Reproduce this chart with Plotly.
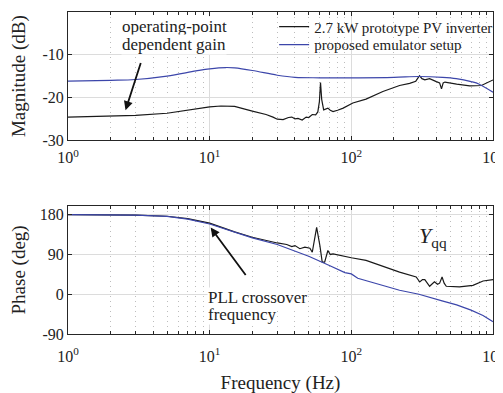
import plotly.graph_objects as go

# --- data ---
mag_freq_proto = [1, 2, 3, 5, 7, 10, 12, 15, 20, 25, 28, 30, 33, 36, 38, 40, 42, 45, 48, 50,
                  53, 56, 58, 59.5, 60.6, 61.8, 63.8, 66, 68.3, 71, 74.3, 80, 87.6, 102.5, 127,
                  167, 219, 258, 285, 303, 315, 330, 357, 398, 420, 433, 445, 458, 500, 554,
                  685, 828, 1000]
mag_proto = [-24.6, -24.4, -24.2, -23.7, -23.0, -22.2, -22.0, -22.1, -23.2, -24.0, -24.6, -25.1,
             -25.2, -24.7, -24.6, -25.0, -24.9, -25.3, -24.6, -24.7, -24.0, -24.1, -23.4, -21.0,
             -16.5, -20.5, -22.9, -22.7, -22.5, -23.0, -23.3, -23.0, -22.5, -21.3, -20.4, -18.6,
             -17.2, -16.7, -16.2, -14.9, -15.6, -15.9, -15.6, -16.3, -16.6, -18.0, -16.6, -16.4,
             -16.7, -16.9, -17.3, -17.2, -15.9]

mag_freq_emu = [1, 2, 3, 5, 8, 10, 13, 15, 20, 30, 40, 60, 100, 200, 300, 440, 550, 700, 800, 1000]
mag_emu = [-16.2, -16.0, -15.8, -15.0, -13.8, -13.3, -13.0, -13.1, -13.7, -14.8, -15.3, -15.4,
           -15.4, -15.3, -15.1, -15.3, -15.6, -16.3, -16.9, -18.8]

ph_freq_proto = [1, 3, 5, 7, 10, 15, 20, 25, 30, 35, 38, 40, 43.3, 47, 51, 53, 56.9, 60, 62.3,
                 64.8, 66.5, 68.3, 71, 74.3, 100, 127, 219, 287, 304, 318, 330, 357, 386, 406,
                 420, 437, 452, 468, 580, 722, 851, 1000]
ph_proto = [180, 179, 176.5, 171, 161, 141, 129, 121.5, 116, 112.5, 108, 110, 103, 106.5, 104,
            95, 151.5, 110, 72.7, 72.7, 85, 99, 90, 91.5, 82.5, 76.5, 50, 39, 27.7, 33, 33, 18,
            28, 22.5, 25, 39, 25, 18, 16.5, 20, 30, 33]

ph_freq_emu = [1, 3, 5, 7, 10, 15, 20, 30, 50, 70, 90, 100, 111, 219, 300, 437, 554, 700, 850, 1000]
ph_emu = [180, 179, 176, 170, 159, 140, 127.5, 112.5, 86, 65, 49, 46, 36, 9, 0, -15, -24, -36,
          -48, -62]

x_ticks = [1, 10, 100, 1000]
x_ticktext = ["10<sup>0</sup>", "10<sup>1</sup>", "10<sup>2</sup>", "10<sup>3</sup>"]
x_minor = [m * 10 ** k for k in range(3) for m in range(2, 10)]
mag_ticks = [0, -10, -20, -30]
ph_ticks = [-90, 0, 90, 180]

BLACK = "#1a1a1a"
BLUE = "#3c46aa"
FONT = "Liberation Serif, Times New Roman, serif"

fig = go.Figure()
fig.add_trace(go.Scatter(x=mag_freq_proto, y=mag_proto, mode="lines", name="2.7 kW prototype PV inverter",
                         line=dict(color=BLACK, width=1.2), xaxis="x", yaxis="y", legend="legend"))
fig.add_trace(go.Scatter(x=mag_freq_emu, y=mag_emu, mode="lines", name="proposed emulator setup",
                         line=dict(color=BLUE, width=1.2), line_shape="spline", xaxis="x", yaxis="y",
                         legend="legend2"))
fig.add_trace(go.Scatter(x=ph_freq_proto, y=ph_proto, mode="lines", showlegend=False,
                         line=dict(color=BLACK, width=1.2), xaxis="x2", yaxis="y2"))
fig.add_trace(go.Scatter(x=ph_freq_emu, y=ph_emu, mode="lines", showlegend=False,
                         line=dict(color=BLUE, width=1.2), xaxis="x2", yaxis="y2"))

common_x = dict(
    type="log", range=[0, 3], tickmode="array", tickvals=x_ticks, ticktext=x_ticktext,
    showline=True, linecolor="#262626", linewidth=1, mirror="ticks", automargin=False,
    ticks="inside", ticklen=4, tickcolor="#262626",
    showgrid=True, gridcolor="#dcdcdc", gridwidth=1, zeroline=False,
    minor=dict(tickmode="array", tickvals=x_minor, ticks="inside", ticklen=3,
               tickcolor="#262626", showgrid=True, gridcolor="#bdbdbd", griddash="1px,4px"),
    tickfont=dict(family=FONT, size=16, color="#222"),
)
common_y = dict(
    showline=True, linecolor="#262626", linewidth=1, mirror="ticks", automargin=False,
    ticks="inside", ticklen=4, tickcolor="#262626",
    showgrid=True, gridcolor="#dcdcdc", zeroline=False,
    tickfont=dict(family=FONT, size=16, color="#222"),
    tickmode="array",
)
legend_common = dict(xanchor="left", yanchor="middle", bgcolor="rgba(0,0,0,0)",
                     font=dict(family=FONT, size=15, color="#222"))

fig.update_layout(
    width=503, height=393,
    margin=dict(l=60, r=18, t=2, b=67),
    paper_bgcolor="white", plot_bgcolor="white",
    font=dict(family=FONT, color="#222"),
    xaxis=dict(common_x, anchor="y", ticklabelstandoff=3),
    yaxis=dict(common_y, domain=[0.602, 1], range=[-30, 0], tickvals=mag_ticks,
               ticktext=[str(v) for v in mag_ticks],
               title=dict(text="Magnitude (dB)", font=dict(family=FONT, size=19), standoff=16)),
    xaxis2=dict(common_x, anchor="y2", ticklabelstandoff=8,
                title=dict(text="Frequency (Hz)", font=dict(family=FONT, size=19), standoff=11)),
    yaxis2=dict(common_y, domain=[0, 0.398], range=[-90, 200], tickvals=ph_ticks,
                ticktext=[str(v) for v in ph_ticks],
                title=dict(text="Phase (deg)", font=dict(family=FONT, size=19), standoff=16)),
    legend=dict(legend_common, x=0.485, y=1 - 15 / 324),
    legend2=dict(legend_common, x=0.485, y=1 - 33 / 324),
    showlegend=True,
)

# text annotations
ann_font = dict(family=FONT, size=17, color="#222")
fig.add_annotation(x=0.371, y=-3.5, xref="x", yref="y", text="operating-point", showarrow=False,
                   xanchor="left", font=ann_font, bgcolor="white", borderpad=0)
fig.add_annotation(x=0.371, y=-7.7, xref="x", yref="y", text="dependent gain", showarrow=False,
                   xanchor="left", font=ann_font, bgcolor="white", borderpad=0)
fig.add_annotation(x=0.406, y=-23.0, xref="x", yref="y", ax=0.517, ay=-11.6, axref="x", ayref="y",
                   text="", showarrow=True, arrowhead=2, arrowsize=1, arrowwidth=1.8, arrowcolor="#111")

fig.add_annotation(x=0.979, y=-6.75, xref="x2", yref="y2", text="PLL crossover", showarrow=False,
                   xanchor="left", font=ann_font, bgcolor="white", borderpad=0)
fig.add_annotation(x=0.979, y=-47, xref="x2", yref="y2", text="frequency", showarrow=False,
                   xanchor="left", font=ann_font, bgcolor="white", borderpad=0)
fig.add_annotation(x=1.007, y=150.75, xref="x2", yref="y2", ax=1.262, ay=40, axref="x2", ayref="y2",
                   text="", showarrow=True, arrowhead=2, arrowsize=1, arrowwidth=1.8, arrowcolor="#111")

fig.add_annotation(x=2.465, y=130, xref="x2", yref="y2", text="<i>Y</i><sub>qq</sub>", showarrow=False,
                   xanchor="left", font=dict(family=FONT, size=22, color="#222"))

fig.write_html("out.html")
